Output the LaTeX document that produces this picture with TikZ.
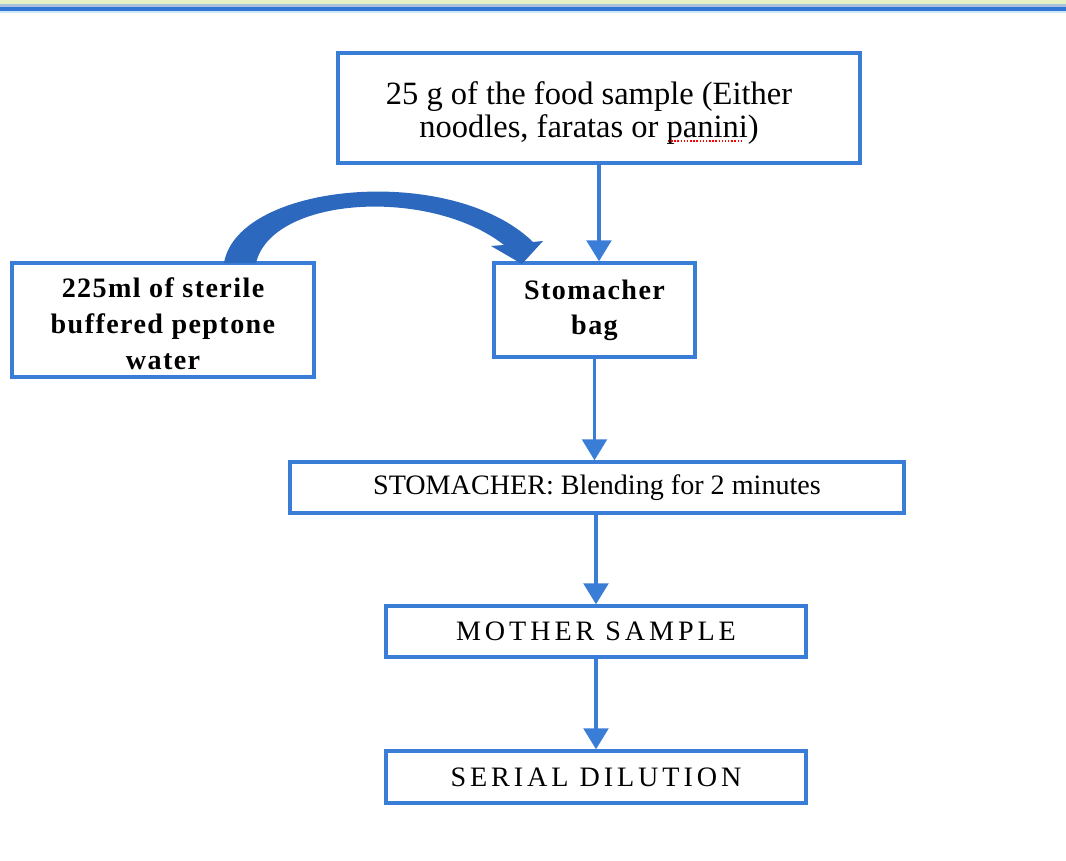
\documentclass[tikz,border=0pt]{standalone}
\usepackage{fontspec}
\setmainfont{Liberation Serif}
\newfontfamily\widefont[LetterSpace=14]{Liberation Serif}
\newfontfamily\boldwide[LetterSpace=5]{Liberation Serif}
\usetikzlibrary{arrows.meta}
\definecolor{boxblue}{RGB}{58,125,214}
\definecolor{curveblue}{RGB}{44,104,190}
\definecolor{bandgreen}{RGB}{227,241,196}
\definecolor{bandgrey}{RGB}{170,193,222}
\definecolor{bandblue}{RGB}{48,118,212}
\definecolor{bandlight}{RGB}{210,229,248}

\begin{document}
\begin{tikzpicture}[x=0.02cm, y=-0.02cm,
  box/.style={draw=boxblue, line width=1.9pt, align=center, inner sep=0pt,
    font=\fontsize{16}{18.7}\selectfont},
  flow/.style={draw=boxblue, line width=2.2pt, -{Triangle[length=12pt,width=14pt]}}]
  \useasboundingbox (0,0) rectangle (1066,861);
  % Faixa superior
  \fill[bandgreen] (0,0) rectangle (1066,4);
  \fill[bandgrey] (0,4) rectangle (1066,7);
  \fill[bandblue] (0,7) rectangle (1066,11.5);
  \fill[bandlight] (0,11.5) rectangle (1066,13);
  % Caixas
  \node[box, minimum width=10.44cm, minimum height=2.2cm,
    font=\fontsize{18.5}{19}\selectfont] (food) at (599,108)
    {\rule{0pt}{18.5pt}\kern-0.4cm 25 g of the food sample (Either\\
     \kern-0.4cm noodles, faratas or panini)};
  \node[box, minimum width=6.04cm, minimum height=2.28cm,
    font=\boldwide\bfseries\fontsize{16}{20.5}\selectfont] (water) at (163,320)
    {\rule{0pt}{15.5pt}225ml of sterile\\ buffered peptone\\ water};
  \node[box, minimum width=4.02cm, minimum height=1.88cm,
    font=\boldwide\bfseries\fontsize{16}{20}\selectfont] (bag) at (594.5,310)
    {Stomacher\\ bag};
  \node[box, minimum width=12.28cm, minimum height=1.02cm] (blend) at (597,487.5)
    {STOMACHER: Blending for 2 minutes};
  \node[box, minimum width=8.4cm, minimum height=1.02cm,
    font=\widefont\fontsize{16}{18.7}\selectfont] (mother) at (596,631.5)
    {MOTHER SAMPLE};
  \node[box, minimum width=8.4cm, minimum height=1.04cm,
    font=\widefont\fontsize{16}{18.7}\selectfont] (serial) at (596,777)
    {SERIAL DILUTION};
  % Sublinhado do corretor
  \draw[red, densely dotted, line width=0.8pt] (668,141) -- (743,141);
  % Seta curva
  \fill[curveblue] (224,263) .. controls (238,182) and (452,163) .. (533,242)
    -- (543,241) -- (522,264) -- (491,246) -- (504,245)
    .. controls (430,187) and (272,196) .. (256,263) -- cycle;
  % Setas
  \draw[flow] (food.south) -- (food.south |- bag.north);
  \draw[flow] (bag.south) -- (bag.south |- blend.north);
  \draw[flow] (blend.south -| mother) -- (mother.north);
  \draw[flow] (mother.south) -- (serial.north);
\end{tikzpicture}
\end{document}
